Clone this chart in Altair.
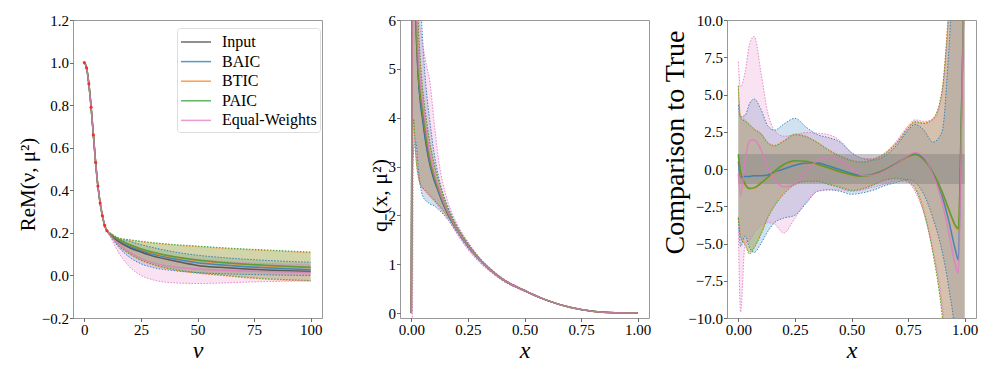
import altair as alt
import pandas as pd

FONT = "Liberation Serif"
SERIES = ["Input", "BAIC", "BTIC", "PAIC", "Equal-Weights"]
COLORS = ["#3a3a3a", "#1f77b4", "#ff7f0e", "#2ca02c", "#e377c2"]

# ---------------- Panel 1: Re M(nu, mu^2) ----------------
NU = [0, 1, 2, 3, 4, 5, 6, 7, 8, 9, 10, 12, 15, 20, 25, 30, 40, 50, 60, 70, 80, 90, 100]
M_EARLY = [1.0, 0.975, 0.90, 0.79, 0.66, 0.53, 0.42, 0.34, 0.28, 0.235, 0.21]
RED_NU = [0, 1, 2, 3, 4, 5, 6, 7, 8, 9, 10]
RED_M = [1.0, 0.975, 0.90, 0.79, 0.66, 0.53, 0.42, 0.34, 0.28, 0.235, 0.21]

M_INPUT = M_EARLY + [0.185, 0.16, 0.13, 0.11, 0.092, 0.068, 0.047, 0.038, 0.031, 0.026, 0.022, 0.019]
M_BAIC = M_EARLY + [0.19, 0.165, 0.137, 0.117, 0.1, 0.077, 0.06, 0.05, 0.042, 0.036, 0.031, 0.027]
M_BTIC = M_EARLY + [0.19, 0.168, 0.143, 0.123, 0.107, 0.085, 0.07, 0.06, 0.052, 0.046, 0.041, 0.037]
M_PAIC = M_EARLY + [0.19, 0.17, 0.145, 0.125, 0.11, 0.088, 0.072, 0.062, 0.054, 0.048, 0.043, 0.039]
M_EW = M_EARLY + [0.18, 0.15, 0.11, 0.08, 0.06, 0.04, 0.03, 0.025, 0.021, 0.018, 0.016, 0.014]

HI_BAIC1 = M_EARLY + [0.195, 0.175, 0.16, 0.145, 0.132, 0.11, 0.095, 0.085, 0.077, 0.071, 0.066, 0.062]
LO_BAIC1 = M_EARLY + [0.178, 0.135, 0.085, 0.055, 0.038, 0.022, 0.013, 0.008, 0.005, 0.003, 0.001, 0.0]
HI_BTIC1 = M_EARLY + [0.195, 0.175, 0.166, 0.158, 0.152, 0.142, 0.135, 0.128, 0.122, 0.117, 0.112, 0.107]
LO_BTIC1 = M_EARLY + [0.18, 0.14, 0.1, 0.07, 0.05, 0.025, 0.01, 0.0, -0.01, -0.018, -0.023, -0.027]
HI_PAIC1 = M_EARLY + [0.196, 0.177, 0.168, 0.161, 0.155, 0.145, 0.138, 0.131, 0.125, 0.12, 0.115, 0.11]
LO_PAIC1 = M_EARLY + [0.181, 0.142, 0.102, 0.073, 0.053, 0.028, 0.013, 0.003, -0.007, -0.015, -0.02, -0.024]
HI_EW1 = M_EARLY + [0.19, 0.165, 0.14, 0.12, 0.105, 0.088, 0.075, 0.067, 0.06, 0.056, 0.053, 0.05]
LO_EW1 = M_EARLY + [0.17, 0.11, 0.04, 0.0, -0.02, -0.035, -0.038, -0.036, -0.032, -0.029, -0.027, -0.025]

# ---------------- Panel 2: q_-(x, mu^2) ----------------
X2 = [0.0, 0.003, 0.006, 0.01, 0.015, 0.02, 0.03, 0.04, 0.05, 0.06, 0.07, 0.08, 0.1, 0.12,
      0.14, 0.16, 0.18, 0.2, 0.25, 0.3, 0.35, 0.4, 0.5, 0.6, 0.7, 0.8, 0.9, 1.0]
Q_INPUT = [0.0, 5.0, 8.5, 8.0, 7.0, 6.0, 4.9, 4.35, 4.0, 3.65, 3.35, 3.1, 2.75, 2.5, 2.25, 2.05,
           1.88, 1.72, 1.38, 1.1, 0.88, 0.7, 0.46, 0.26, 0.12, 0.04, 0.008, 0.0]
Q_BAIC = [0.0, 4.8, 8.2, 7.8, 6.9, 6.0, 4.9, 4.3, 3.95, 3.6, 3.32, 3.08, 2.73, 2.48, 2.24, 2.04,
          1.87, 1.71, 1.37, 1.1, 0.88, 0.7, 0.46, 0.26, 0.12, 0.04, 0.008, 0.0]
Q_BTIC = [0.0, 4.5, 7.8, 7.6, 6.9, 6.1, 5.0, 4.45, 4.1, 3.75, 3.43, 3.17, 2.8, 2.53, 2.28, 2.07,
          1.9, 1.73, 1.39, 1.11, 0.88, 0.7, 0.46, 0.26, 0.12, 0.04, 0.008, 0.0]
Q_PAIC = [0.0, 4.6, 7.9, 7.7, 7.0, 6.2, 5.05, 4.5, 4.15, 3.8, 3.47, 3.2, 2.82, 2.55, 2.29, 2.08,
          1.9, 1.73, 1.39, 1.11, 0.88, 0.7, 0.46, 0.26, 0.12, 0.04, 0.008, 0.0]
Q_EW = [0.0, 4.0, 7.5, 8.0, 7.3, 6.5, 5.3, 4.7, 4.3, 3.95, 3.6, 3.3, 2.88, 2.58, 2.3, 2.08,
        1.89, 1.72, 1.38, 1.1, 0.88, 0.7, 0.46, 0.26, 0.12, 0.04, 0.008, 0.0]

LO_BTIC2 = [0.0, 2.5, 3.6, 3.95, 3.6, 3.2, 2.8, 2.62, 2.55, 2.5, 2.45, 2.4, 2.3, 2.2, 2.1, 1.97,
            1.84, 1.69, 1.36, 1.09, 0.87, 0.69, 0.455, 0.257, 0.118, 0.039, 0.007, 0.0]
HI_BTIC2 = [0.0, 9.0, 12.0, 11.0, 9.0, 7.2, 5.9, 5.1, 4.55, 4.15, 3.8, 3.5, 3.05, 2.7, 2.4, 2.15,
            1.96, 1.78, 1.42, 1.13, 0.9, 0.71, 0.47, 0.265, 0.122, 0.041, 0.009, 0.0]
LO_PAIC2 = [0.0, 2.6, 3.65, 3.97, 3.62, 3.22, 2.82, 2.64, 2.57, 2.52, 2.47, 2.42, 2.32, 2.22, 2.11, 1.98,
            1.85, 1.7, 1.36, 1.09, 0.87, 0.69, 0.455, 0.257, 0.118, 0.039, 0.007, 0.0]
HI_PAIC2 = [0.0, 9.0, 12.0, 11.0, 9.2, 7.3, 6.0, 5.15, 4.6, 4.2, 3.85, 3.55, 3.08, 2.72, 2.42, 2.16,
            1.97, 1.79, 1.42, 1.13, 0.9, 0.71, 0.47, 0.265, 0.122, 0.041, 0.009, 0.0]
LO_BAIC2 = [0.0, 2.0, 3.0, 3.3, 3.45, 3.5, 3.0, 2.6, 2.4, 2.32, 2.28, 2.24, 2.2, 2.12, 2.03, 1.92,
            1.8, 1.66, 1.33, 1.07, 0.86, 0.68, 0.45, 0.255, 0.117, 0.038, 0.007, 0.0]
HI_BAIC2 = [0.0, 9.0, 12.0, 12.0, 11.0, 10.0, 8.0, 6.5, 5.6, 4.9, 4.4, 4.0, 3.3, 2.8, 2.45, 2.2,
            1.98, 1.8, 1.44, 1.14, 0.91, 0.72, 0.47, 0.266, 0.123, 0.042, 0.009, 0.0]
LO_EW2 = [-0.5, -0.5, 0.5, 3.5, 3.6, 3.3, 2.9, 2.65, 2.55, 2.5, 2.45, 2.4, 2.3, 2.18, 2.05, 1.93,
          1.78, 1.63, 1.3, 1.04, 0.84, 0.67, 0.44, 0.25, 0.115, 0.037, 0.006, 0.0]
HI_EW2 = [0.0, 9.0, 12.0, 12.0, 11.0, 7.0, 6.1, 5.8, 5.5, 5.25, 5.0, 4.8, 3.95, 3.15, 2.65, 2.3,
          2.05, 1.85, 1.46, 1.15, 0.92, 0.73, 0.48, 0.27, 0.125, 0.043, 0.01, 0.0]

# ---------------- Panel 3: comparison to true ----------------
X3 = [0.0, 0.01, 0.03, 0.05, 0.07, 0.1, 0.13, 0.16, 0.2, 0.25, 0.3, 0.35, 0.4, 0.45, 0.5,
      0.55, 0.6, 0.65, 0.7, 0.75, 0.78, 0.82, 0.86, 0.9, 0.93, 0.96, 0.972, 0.985, 1.0]
C_BAIC = [0.5, -0.55, -0.5, -0.5, -0.45, -0.45, -0.4, -0.2, 0.0, 0.25, 0.4, 0.4, 0.2, -0.05, -0.3,
          -0.45, -0.35, -0.05, 0.4, 0.85, 1.0, 0.7, -0.3, -1.8, -3.5, -5.5, -6.1, 3.0, 14.0]
C_BTIC = [0.9, -0.3, -1.1, -1.35, -1.3, -1.0, -0.6, -0.2, 0.25, 0.5, 0.5, 0.3, 0.05, -0.2, -0.4,
          -0.5, -0.35, -0.05, 0.35, 0.8, 0.95, 0.6, -0.3, -1.6, -2.8, -3.9, -4.1, 3.0, 14.0]
C_PAIC = [1.0, -0.2, -1.0, -1.3, -1.25, -0.95, -0.55, -0.15, 0.3, 0.55, 0.52, 0.32, 0.07, -0.18, -0.38,
          -0.48, -0.33, -0.03, 0.38, 0.83, 0.97, 0.62, -0.25, -1.5, -2.7, -3.8, -4.0, 3.5, 14.0]
C_EW = [-0.3, -1.8, 0.6, 1.9, 1.95, 1.3, 0.1, -0.7, -1.2, -1.0, -0.1, 0.55, 0.78, 0.55, 0.05,
        -0.45, -0.4, -0.1, 0.35, 0.9, 1.1, 0.8, -0.4, -2.2, -4.3, -6.5, -7.0, 2.0, 14.0]

HI_BAIC3 = [4.3, 3.5, 3.6, 4.4, 4.7, 4.0, 2.9, 2.6, 3.0, 3.4, 2.8, 2.3, 2.1, 1.8, 1.1,
            0.7, 0.6, 0.9, 1.6, 2.6, 3.0, 2.6, 1.8, 2.5, 8.0, 16.0, 20.0, 20.0, 20.0]
LO_BAIC3 = [-3.3, -5.2, -4.5, -5.3, -5.6, -5.0, -4.2, -3.6, -3.3, -3.1, -2.3, -1.5, -1.4, -1.5, -1.7,
            -1.6, -1.4, -1.1, -0.9, -0.7, -0.9, -1.7, -3.3, -5.5, -8.0, -12.0, -20.0, -20.0, -20.0]
HI_BTIC3 = [5.5, 3.5, 3.3, 3.0, 2.7, 2.4, 1.8, 1.6, 1.9, 2.35, 2.2, 1.8, 1.3, 0.9, 0.6,
            0.5, 0.7, 1.1, 1.8, 2.8, 3.2, 3.1, 3.4, 5.3, 11.0, 18.0, 20.0, 20.0, 20.0]
LO_BTIC3 = [-3.2, -4.5, -5.0, -5.6, -5.2, -4.3, -3.2, -2.4, -1.6, -1.0, -0.8, -0.8, -1.0, -1.2, -1.4,
            -1.3, -1.0, -0.7, -0.6, -0.8, -1.2, -2.8, -5.5, -9.5, -14.0, -20.0, -20.0, -20.0, -20.0]
HI_PAIC3 = [5.6, 3.4, 3.2, 2.95, 2.65, 2.35, 1.75, 1.55, 1.85, 2.3, 2.15, 1.75, 1.25, 0.85, 0.55,
            0.45, 0.65, 1.05, 1.75, 2.75, 3.15, 3.05, 3.35, 5.2, 10.5, 18.0, 20.0, 20.0, 20.0]
LO_PAIC3 = [-3.3, -4.6, -5.1, -5.7, -5.3, -4.4, -3.3, -2.5, -1.7, -1.05, -0.85, -0.85, -1.05, -1.25, -1.45,
            -1.35, -1.05, -0.75, -0.65, -0.85, -1.3, -2.9, -5.7, -9.8, -15.0, -20.0, -20.0, -20.0, -20.0]
HI_EW3 = [7.2, 5.5, 6.5, 8.4, 8.9, 6.5, 3.8, 2.6, 2.2, 2.3, 2.45, 2.4, 2.3, 1.9, 1.1,
          0.7, 0.7, 1.1, 1.9, 2.9, 3.3, 3.2, 3.3, 5.0, 10.5, 18.0, 20.0, 20.0, 20.0]
LO_EW3 = [-4.0, -9.6, -5.0, -4.8, -4.3, -3.8, -3.6, -3.7, -4.3, -3.3, -2.2, -1.5, -1.4, -1.4, -1.5,
          -1.4, -1.2, -1.0, -0.8, -0.9, -1.5, -3.0, -5.5, -9.0, -14.0, -20.0, -20.0, -20.0, -20.0]

BAND3_X = [0.0]
BAND3_X2 = [1.0]
BAND3_LO = [-1.0]
BAND3_HI = [1.0]


def long_df(xs, table):
    recs = []
    for name, (mid, lo, hi) in table.items():
        for x, m, l, h in zip(xs, mid, lo, hi):
            recs.append({"x": x, "series": name, "mid": m, "lo": l, "hi": h})
    return pd.DataFrame(recs)


df1 = long_df(NU, {
    "Input": (M_INPUT, M_INPUT, M_INPUT),
    "BAIC": (M_BAIC, LO_BAIC1, HI_BAIC1),
    "BTIC": (M_BTIC, LO_BTIC1, HI_BTIC1),
    "PAIC": (M_PAIC, LO_PAIC1, HI_PAIC1),
    "Equal-Weights": (M_EW, LO_EW1, HI_EW1),
})
df2 = long_df(X2, {
    "Input": (Q_INPUT, Q_INPUT, Q_INPUT),
    "BAIC": (Q_BAIC, LO_BAIC2, HI_BAIC2),
    "BTIC": (Q_BTIC, LO_BTIC2, HI_BTIC2),
    "PAIC": (Q_PAIC, LO_PAIC2, HI_PAIC2),
    "Equal-Weights": (Q_EW, LO_EW2, HI_EW2),
})
df3 = long_df(X3, {
    "BAIC": (C_BAIC, LO_BAIC3, HI_BAIC3),
    "BTIC": (C_BTIC, LO_BTIC3, HI_BTIC3),
    "PAIC": (C_PAIC, LO_PAIC3, HI_PAIC3),
    "Equal-Weights": (C_EW, LO_EW3, HI_EW3),
})
red_df = pd.DataFrame({"x": RED_NU, "mid": RED_M})
band3_df = pd.DataFrame({"x": BAND3_X, "x2": BAND3_X2, "lo": BAND3_LO, "hi": BAND3_HI})

W, H = 249, 298


def make_panel(df, xdom, ydom, xticks, yticks, xfmt, yfmt, xtitle, ytitle,
               ytx, yty, ytsize, ytstyle, legend, before=None, after=None):
    xs = alt.Scale(domain=xdom, nice=False, zero=False)
    ys = alt.Scale(domain=ydom, nice=False, zero=False)
    xax = alt.Axis(values=xticks, format=xfmt, title=xtitle, titleY=32, titleBaseline="middle",
                   titleFontSize=24, titleFontStyle="italic", labelFlush=False, labelOverlap=False)
    yax = alt.Axis(values=yticks, format=yfmt, title=ytitle, titleX=ytx, titleY=yty, titleAngle=270,
                   titleAlign="center", titleBaseline="middle", titleFontSize=ytsize,
                   titleFontStyle=ytstyle, labelFlush=False, labelOverlap=False)
    cs = alt.Scale(domain=SERIES, range=COLORS)
    X = alt.X("x:Q", scale=xs, axis=xax)
    layers = []
    present = [s for s in SERIES if s in set(df["series"]) and s != "Input"]
    for s in present:
        col = COLORS[SERIES.index(s)]
        layers.append(alt.Chart(df).transform_filter(alt.datum.series == s).mark_area(
            opacity=0.21, interpolate="monotone", clip=True, color=col).encode(
            x=X, y=alt.Y("lo:Q", scale=ys, axis=yax), y2="hi:Q"))
    for s in present:
        col = COLORS[SERIES.index(s)]
        for f in ["lo", "hi"]:
            layers.append(alt.Chart(df).transform_filter(alt.datum.series == s).mark_line(
                strokeDash=[1.5, 1.5], strokeWidth=1, opacity=0.85, interpolate="monotone",
                clip=True, color=col).encode(
                x=X, y=alt.Y(f + ":Q", scale=ys, axis=yax)))
    if before is not None:
        layers.append(before(X, ys, yax))
    layers.append(alt.Chart(df).mark_line(strokeWidth=1.5, opacity=0.75, interpolate="monotone",
                                          clip=True).encode(
        x=X, y=alt.Y("mid:Q", scale=ys, axis=yax),
        color=alt.Color("series:N", scale=cs, legend=legend)))
    if after is not None:
        layers.append(after(X, ys, yax))
    return alt.layer(*layers).properties(width=W, height=H)


legend1 = alt.Legend(orient="none", legendX=104, legendY=8, title=None,
                     symbolType="M-1.5,0H1.5", symbolSize=400, symbolStrokeWidth=1.5,
                     symbolOffset=5, labelFont=FONT, labelFontSize=16,
                     labelColor="black", fillColor="white", strokeColor="#dddddd", padding=3,
                     cornerRadius=3, rowPadding=0.6, labelOffset=15)


def red_points(X, ys, yax):
    return alt.Chart(red_df).mark_circle(size=10, color="#ff2020", opacity=0.9).encode(
        x=X, y=alt.Y("mid:Q", scale=ys, axis=yax))


def gray_band(X, ys, yax):
    return alt.Chart(band3_df).mark_rect(color="#808080", opacity=0.45).encode(
        x=X, x2="x2:Q", y=alt.Y("lo:Q", scale=ys, axis=yax), y2="hi:Q")


p1 = make_panel(df1, [-5, 105], [-0.2, 1.2], [0, 25, 50, 75, 100],
                [-0.2, 0.0, 0.2, 0.4, 0.6, 0.8, 1.0, 1.2], "d", ".1f", "ν", "ReM(ν, μ²)",
                -45, 164, 21, "normal", legend1, after=red_points)
p2 = make_panel(df2, [-0.05, 1.05], [-0.1, 6.0], [0, 0.25, 0.5, 0.75, 1.0],
                [0, 1, 2, 3, 4, 5, 6], ".2f", "d", "x", "q₋(x, μ²)",
                -21, 175, 22, "normal", None)
p3 = make_panel(df3, [-0.05, 1.05], [-10, 10], [0, 0.25, 0.5, 0.75, 1.0],
                [-10, -7.5, -5, -2.5, 0, 2.5, 5, 7.5, 10], ".2f", ".1f", "x", "Comparison to True",
                -52, 122, 28, "normal", None, before=gray_band)

chart = alt.hconcat(p1, p2, p3, spacing=78, bounds="flush").resolve_scale(
    color="independent"
).properties(
    padding={"left": 8, "top": 4, "right": 5, "bottom": 5}
).configure(font=FONT).configure_view(
    stroke="#999999", strokeWidth=1
).configure_axis(
    labelFont=FONT, titleFont=FONT, labelFontSize=15, labelColor="black", titleColor="black",
    titleFontWeight="normal", tickColor="#444444", tickSize=3.5, tickWidth=0.8, domain=False,
    grid=False, labelPadding=1
)

chart.save("out.html", embed_options={"renderer": "svg", "actions": False})
